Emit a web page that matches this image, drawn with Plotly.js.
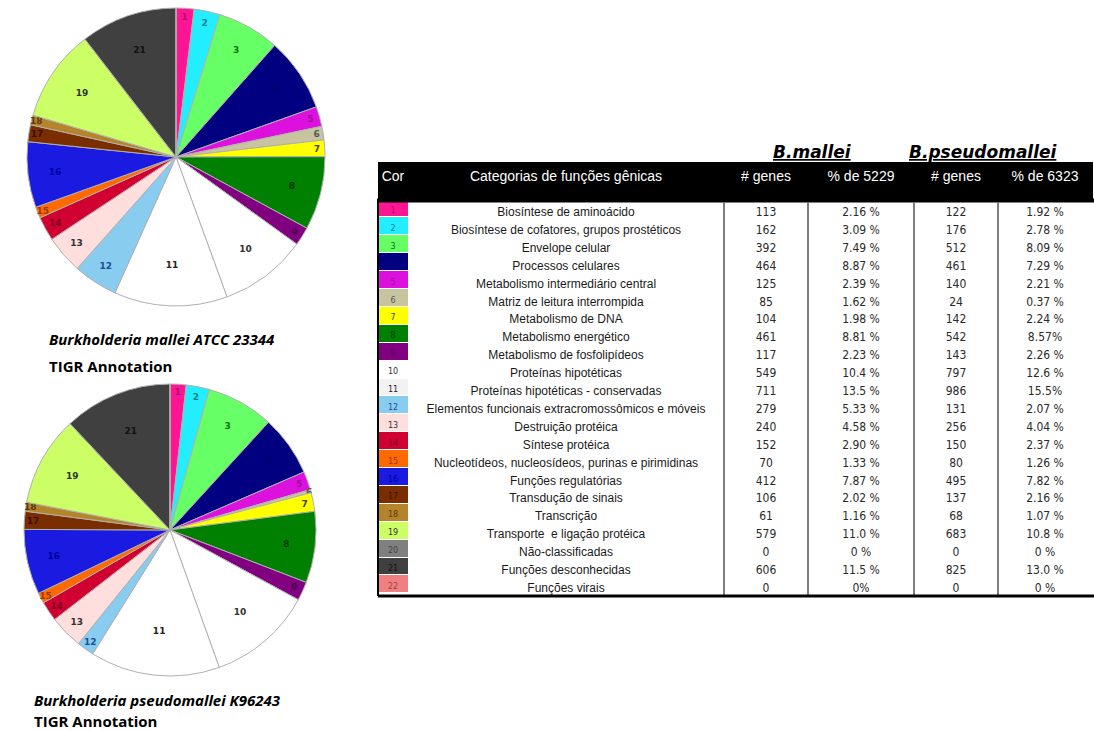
<!DOCTYPE html>
<html>
<head>
<meta charset="utf-8">
<script src="https://cdn.plot.ly/plotly-3.0.1.min.js"></script>
<style>html,body{margin:0;padding:0;background:#fff;}#chart{width:1094px;height:731px;}</style>
</head>
<body>
<div id="chart"></div>
<script>
// ---------- data ----------
const ids = ['1','2','3','4','5','6','7','8','9','10','11','12','13','14','15','16','17','18','19','20','21','22'];
const categories = [
  'Biosíntese de aminoácido',
  'Biosíntese de cofatores, grupos prostéticos',
  'Envelope celular',
  'Processos celulares',
  'Metabolismo intermediário central',
  'Matriz de leitura interrompida',
  'Metabolismo de DNA',
  'Metabolismo energético',
  'Metabolismo de fosfolipídeos',
  'Proteínas hipotéticas',
  'Proteínas hipotéticas - conservadas',
  'Elementos funcionais extracromossômicos e móveis',
  'Destruição protéica',
  'Síntese protéica',
  'Nucleotídeos, nucleosídeos, purinas e pirimidinas',
  'Funções regulatórias',
  'Transdução de sinais',
  'Transcrição',
  'Transporte  e ligação protéica',
  'Não-classificadas',
  'Funções desconhecidas',
  'Funções virais'
];
const malleiGenes = [113,162,392,464,125,85,104,461,117,549,711,279,240,152,70,412,106,61,579,0,606,0];
const malleiPct = ['2.16 %','3.09 %','7.49 %','8.87 %','2.39 %','1.62 %','1.98 %','8.81 %','2.23 %','10.4 %','13.5 %','5.33 %','4.58 %','2.90 %','1.33 %','7.87 %','2.02 %','1.16 %','11.0 %','0 %','11.5 %','0%'];
const pseudoGenes = [122,176,512,461,140,24,142,542,143,797,986,131,256,150,80,495,137,68,683,0,825,0];
const pseudoPct = ['1.92 %','2.78 %','8.09 %','7.29 %','2.21 %','0.37 %','2.24 %','8.57%','2.26 %','12.6 %','15.5%','2.07 %','4.04 %','2.37 %','1.26 %','7.82 %','2.16 %','1.07 %','10.8 %','0 %','13.0 %','0 %'];
const headerLabels = ['Cor','Categorias de funções gênicas','# genes','% de 5229','# genes','% de 6323'];

// ---------- styles ----------
const sliceColors = ['#ff1493','#22eeff','#66ff66','#000080','#dd11dd','#c8c4a0','#ffff00','#008000','#800080','#ffffff','#ffffff','#88ccf0','#ffdede','#d00030','#ff6a00','#1a1ae0','#7a2e00','#b5832a','#ccff66','#808080','#404040','#f08080'];
const labelColors = ['#b0106a','#108090','#107010','#000070','#a010a0','#555555','#444400','#003800','#500050','#333333','#222222','#1a4f90','#333333','#800020','#a03800','#0000a0','#3a1000','#5a3a10','#333333','#444444','#111111','#a04040'];
const swatchColors = sliceColors.map((c,i)=> i===10 ? '#f2f2f2' : c);

const W = 1094, H = 731;
const px = v => v / W, py = v => 1 - v / H;

function pieTrace(values, x0, x1, y0, y1) {
  return {
    type: 'pie', values: values, labels: ids,
    text: ids.map((d, i) => values[i] > 0 ? d : ''),
    sort: false, direction: 'clockwise', rotation: 0,
    textinfo: 'text', textposition: 'inside', insidetextorientation: 'horizontal',
    textfont: {family: 'DejaVu Sans', size: 9, color: labelColors, weight: 'bold'},
    marker: {colors: sliceColors, line: {color: '#b0b0b0', width: 1}},
    hoverinfo: 'none', showlegend: false,
    domain: {x: [px(x0), px(x1)], y: [py(y1), py(y0)]}
  };
}

const colW = [30, 316, 84, 106, 84, 94];
const tX0 = 378, tX1 = 1092;
const tTop = 162, headerH = 37, bandBottom = 202.5, rowH = 17.9, lineY = 596;
const tEnd = tTop + headerH + rowH * ids.length;

const clear = ids.map(()=> 'rgba(255,255,255,0)');
const numFont = 'Liberation Sans Narrow, DejaVu Sans Condensed, Liberation Sans';
const table = {
  type: 'table',
  domain: {x: [px(tX0), px(tX1)], y: [py(tEnd + 4), py(tTop)]},
  columnwidth: colW,
  header: {
    values: headerLabels,
    fill: {color: '#000000'}, line: {color: '#000000', width: 1},
    font: {family: 'Liberation Sans', size: 14, color: '#ffffff'},
    align: 'center', height: headerH
  },
  cells: {
    values: [ids, categories, malleiGenes, malleiPct, pseudoGenes, pseudoPct],
    fill: {color: [swatchColors, clear, clear, clear, clear, clear]},
    line: {color: ['#ffffff', 'rgba(255,255,255,0)', 'rgba(255,255,255,0)', 'rgba(255,255,255,0)', 'rgba(255,255,255,0)', 'rgba(255,255,255,0)'], width: 1},
    font: {
      family: ['DejaVu Sans', 'Liberation Sans', numFont, numFont, numFont, numFont],
      size: [8, 12, 12, 12, 12, 12],
      color: [labelColors, '#1a1a1a', '#2a2a2a', '#2a2a2a', '#2a2a2a', '#2a2a2a']
    },
    align: 'center', height: rowH
  }
};

// column separator shapes, computed from the table geometry
const totalW = colW.reduce((a,b)=>a+b,0);
const shapes = [
  {type:'rect', xref:'paper', yref:'paper', x0: px(tX0 - 1), x1: 1, y0: py(bandBottom), y1: py(tTop + headerH - 0.5), fillcolor:'#000000', line:{width:0}}
];
let acc = 0;
for (let i = 0; i < colW.length - 1; i++) {
  acc += colW[i];
  if (i >= 1) {
    const xx = tX0 + (tX1 - tX0) * acc / totalW;
    shapes.push({type:'line', xref:'paper', yref:'paper', x0: px(xx), x1: px(xx), y0: py(bandBottom), y1: py(lineY), line:{color:'#555555', width:1.5}});
  }
}
shapes.push({type:'line', xref:'paper', yref:'paper', x0: px(tX0), x1: px(tX0), y0: py(bandBottom - 1), y1: py(lineY), line:{color:'#000000', width:2}});
shapes.push({type:'line', xref:'paper', yref:'paper', x0: px(tX0), x1: 1, y0: py(lineY), y1: py(lineY), line:{color:'#000000', width:3}});

const titleFont = {family: 'Open Sans', size: 15, color: '#000000', weight: 800};
const annotations = [
  {text: '<b><i>Burkholderia mallei ATCC 23344</i></b>', x: px(47), y: py(339), xanchor: 'left', yanchor: 'middle'},
  {text: '<b>TIGR Annotation</b>', x: px(47), y: py(366), xanchor: 'left', yanchor: 'middle'},
  {text: '<b><i>Burkholderia pseudomallei K96243</i></b>', x: px(32), y: py(700), xanchor: 'left', yanchor: 'middle'},
  {text: '<b>TIGR Annotation</b>', x: px(32), y: py(721), xanchor: 'left', yanchor: 'middle'},
].map(a => Object.assign({xref:'paper', yref:'paper', showarrow:false, font: titleFont}, a));
annotations.push(
  {text: '<b><i><u>B.mallei</u></i></b>', x: px(812), y: py(152), xref:'paper', yref:'paper', showarrow:false, xanchor:'center', yanchor:'middle', font:{family:'DejaVu Sans', size:17, color:'#000', weight: 900}},
  {text: '<b><i><u>B.pseudomallei</u></i></b>', x: px(983), y: py(152), xref:'paper', yref:'paper', showarrow:false, xanchor:'center', yanchor:'middle', font:{family:'DejaVu Sans', size:17, color:'#000', weight: 900}}
);

const data = [
  pieTrace(malleiGenes, 26, 326, 8, 306),
  pieTrace(pseudoGenes, 23, 317, 384, 676),
  table
];

const layout = {
  width: W, height: H,
  margin: {l:0, r:0, t:0, b:0},
  paper_bgcolor: '#ffffff',
  showlegend: false,
  uniformtext: {minsize: 8, mode: 'show'},
  shapes: shapes,
  annotations: annotations
};

Plotly.newPlot('chart', data, layout, {displayModeBar: false, staticPlot: true});
</script>
</body>
</html>
